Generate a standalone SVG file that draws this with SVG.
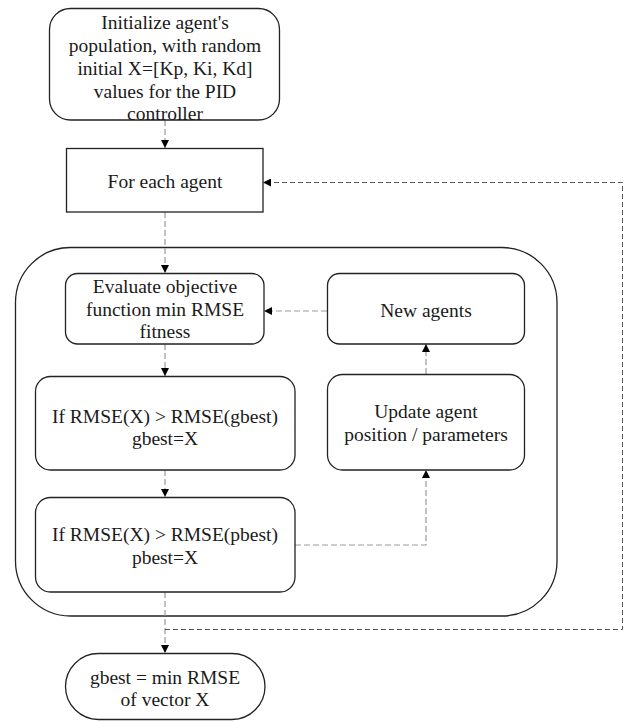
<svg xmlns="http://www.w3.org/2000/svg" width="624" height="722" viewBox="0 0 624 722">
<style>
.box{fill:#fff;stroke:#222;stroke-width:1.3}
.cont{fill:none;stroke:#222;stroke-width:1.3}
.t{font-family:'Liberation Serif','Times New Roman','DejaVu Serif',serif;font-size:19.5px;fill:#1a1a1a;text-anchor:middle}
.c{fill:none;stroke:#999;stroke-width:1.2;stroke-dasharray:6,3}
.loop{fill:none;stroke:#555;stroke-width:1;stroke-dasharray:5,3}
</style>
<defs>
<marker id="ah" viewBox="0 0 10 10" refX="10" refY="5" markerWidth="8" markerHeight="8" markerUnits="userSpaceOnUse" orient="auto">
<path d="M0,0 L10,5 L0,10 z" fill="#000"/>
</marker>
</defs>
<rect id="container" class="cont" x="15.5" y="247.5" width="541.5" height="368.5" rx="55" ry="55"/>
<g id="connectors">
<path class="c" d="M165,120 V148" marker-end="url(#ah)"/>
<path class="c" d="M165,212 V273" marker-end="url(#ah)"/>
<path class="c" d="M327,311 H264" marker-end="url(#ah)"/>
<path class="c" d="M165,344 V376" marker-end="url(#ah)"/>
<path class="c" d="M165,470 V497" marker-end="url(#ah)"/>
<path class="c" d="M426,374 V344" marker-end="url(#ah)"/>
<path class="c" d="M295,545 H426 V470" marker-end="url(#ah)"/>
<path class="c" d="M165,592 V653" marker-end="url(#ah)"/>
<path class="loop" d="M165,629.5 H622.5 V182.5 H263" marker-end="url(#ah)"/>
</g>
<g id="init">
<rect class="box" x="49.5" y="8.5" width="230" height="111.5" rx="21" ry="21"/>
<text class="t" font-family="Liberation Serif" x="165" y="29">Initialize agent's</text>
<text class="t" font-family="Liberation Serif" x="165" y="52">population, with random</text>
<text class="t" font-family="Liberation Serif" x="165" y="75">initial X=[Kp, Ki, Kd]</text>
<text class="t" font-family="Liberation Serif" x="165" y="98">values for the PID</text>
<text class="t" font-family="Liberation Serif" x="165" y="120">controller</text>
</g>
<g id="foreach">
<rect class="box" x="66.5" y="148.5" width="196.5" height="63.5"/>
<text class="t" x="165" y="188">For each agent</text>
</g>
<g id="evaluate">
<rect class="box" x="65.5" y="273.5" width="198.5" height="70.5" rx="12" ry="12"/>
<text class="t" x="165" y="293">Evaluate objective</text>
<text class="t" x="165" y="316">function min RMSE</text>
<text class="t" x="165" y="338">fitness</text>
</g>
<g id="newagents">
<rect class="box" x="327.5" y="273.5" width="197" height="70.5" rx="12" ry="12"/>
<text class="t" x="426" y="317">New agents</text>
</g>
<g id="gbest">
<rect class="box" x="35.5" y="376.5" width="259.5" height="93.5" rx="15" ry="15"/>
<text class="t" x="165" y="423">If RMSE(X) &gt; RMSE(gbest)</text>
<text class="t" x="165" y="445">gbest=X</text>
</g>
<g id="update">
<rect class="box" x="327.5" y="374.5" width="197" height="95.5" rx="15" ry="15"/>
<text class="t" x="426" y="418">Update agent</text>
<text class="t" x="426" y="441">position / parameters</text>
</g>
<g id="pbest">
<rect class="box" x="35.5" y="497.5" width="259.5" height="94.5" rx="15" ry="15"/>
<text class="t" x="165" y="541">If RMSE(X) &gt; RMSE(pbest)</text>
<text class="t" x="165" y="564">pbest=X</text>
</g>
<g id="end">
<rect class="box" x="65.5" y="653.5" width="199.5" height="66" rx="33" ry="33"/>
<text class="t" x="165" y="684">gbest = min RMSE</text>
<text class="t" x="165" y="706">of vector X</text>
</g>
</svg>
